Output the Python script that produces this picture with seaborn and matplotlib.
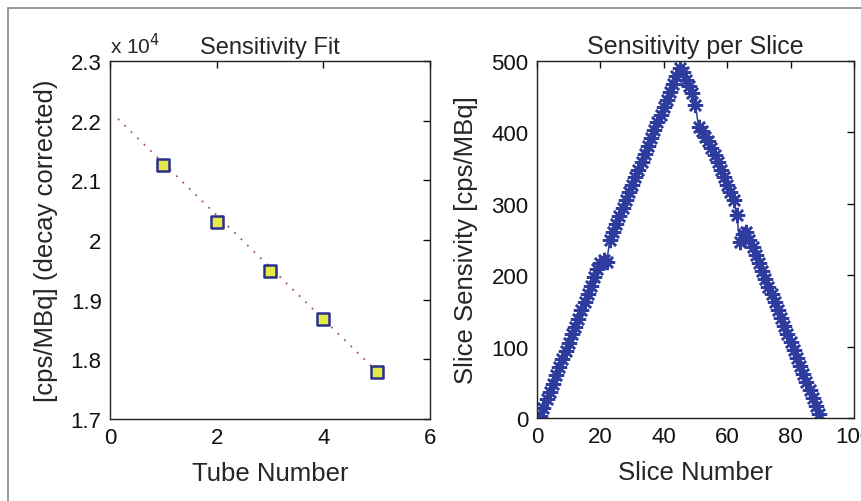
import numpy as np
import pandas as pd
import seaborn as sns
import matplotlib
matplotlib.use("Agg")
import matplotlib.pyplot as plt
from matplotlib.ticker import FuncFormatter
from matplotlib.patches import Rectangle

# Sensitivity fit (left panel)
tube_number = [1, 2, 3, 4, 5]
tube_sens = [21250, 20300, 19480, 18670, 17790]
fit_x = [0.15, 5.0]
fit_y = [22030, 17800]

# Sensitivity per slice (right panel)
slice_number = list(range(1, 90))
slice_sens = [
    3, 14, 26, 37, 48, 60, 71, 83, 94, 105,
    117, 128, 139, 151, 162, 174, 185, 197, 208, 217,
    221, 219, 250, 261, 272, 283, 294, 305, 316, 326,
    337, 348, 359, 370, 381, 392, 403, 414, 424, 435,
    446, 457, 468, 479, 490, 484, 474, 465, 455, 438,
    407, 402, 394, 388, 378, 368, 358, 348, 338, 327,
    316, 305, 284, 246, 258, 260, 250, 239, 228, 217,
    206, 195, 184, 173, 162, 151, 140, 129, 117, 106,
    95, 84, 73, 62, 50, 39, 28, 17, 5,
]

sns.set_style("white")
plt.rcParams['font.family'] = ['Liberation Sans', 'DejaVu Sans']

W, H = 862, 502
fig = plt.figure(figsize=(W / 100, H / 100), dpi=100)

def px_axes(x0, x1, y0, y1):
    return fig.add_axes([x0 / W, 1 - y1 / H, (x1 - x0) / W, (y1 - y0) / H])

ax1 = px_axes(110, 430, 62, 420)
ax2 = px_axes(537, 854, 62, 419)

# left: fit line + measured tubes
fit_df = pd.DataFrame({'x': fit_x, 'y': fit_y})
sns.lineplot(data=fit_df, x='x', y='y', ax=ax1, color='#a8506e',
             linestyle=(0, (1, 4)), linewidth=1.3)
tube_df = pd.DataFrame({'tube': tube_number, 'sens': tube_sens})
sns.scatterplot(data=tube_df, x='tube', y='sens', ax=ax1, marker='s', s=75,
                color='#e6e84a', edgecolor='#2a2f8a', linewidth=1.8, zorder=3)
ax1.set_xlim(0, 6)
ax1.set_ylim(17000, 23000)
ax1.set_xticks([0, 2, 4, 6])
ax1.set_yticks([17000, 18000, 19000, 20000, 21000, 22000, 23000])
ax1.yaxis.set_major_formatter(FuncFormatter(lambda v, p: f'{v / 1e4:.1f}'.rstrip('0').rstrip('.')))
ax1.set_xlabel('Tube Number', fontsize=18.5, labelpad=9)
ax1.set_ylabel('[cps/MBq] (decay corrected)', fontsize=18.5, labelpad=9)
ax1.set_title('Sensitivity Fit', fontsize=17, pad=6)
ax1.text(0.0, 1.01, 'x 10$^4$', transform=ax1.transAxes, fontsize=15, ha='left', va='bottom')

# right: per-slice sensitivity
slice_df = pd.DataFrame({'slice': slice_number, 'sens': slice_sens})
sns.lineplot(data=slice_df, x='slice', y='sens', ax=ax2, color='#2e3c9e',
             marker=(8, 2, 0), markersize=11, markeredgewidth=1.8,
             markeredgecolor='#2e3c9e', linewidth=1.1)
ax2.set_xlim(0, 100)
ax2.set_ylim(0, 500)
ax2.set_xticks([0, 20, 40, 60, 80, 100])
ax2.set_yticks([0, 100, 200, 300, 400, 500])
ax2.set_xlabel('Slice Number', fontsize=18.5, labelpad=9)
ax2.set_ylabel('Slice Sensivity [cps/MBq]', fontsize=18.5, labelpad=10)
ax2.set_title('Sensitivity per Slice', fontsize=18, pad=6)

for ax in (ax1, ax2):
    for s in ax.spines.values():
        s.set_visible(True)
        s.set_color('#222222')
        s.set_linewidth(1.0)
    ax.tick_params(direction='in', length=5, width=1, top=True, right=True,
                   labelsize=16, pad=6, colors='#111111')

# grey frame around the figure (cut at right/bottom like the scan)
fig.patches.append(Rectangle((8 / W, -0.1), 1.2, 1.1 - 9 / H, transform=fig.transFigure,
                             fill=False, edgecolor='#888888', linewidth=1.2))

fig.savefig('out.png', dpi=100)
